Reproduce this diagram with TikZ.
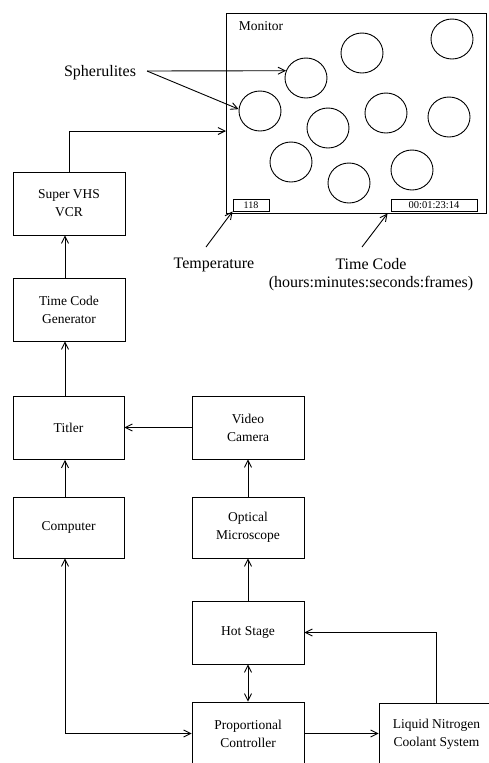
\documentclass[tikz,border=0pt]{standalone}
\usepackage{fontspec}
\setmainfont{Liberation Serif}
\usetikzlibrary{arrows.meta,shapes.geometric,calc}
\begin{document}
\begin{tikzpicture}[x=1pt,y=-1pt,
  line width=0.9pt,
  >={Straight Barb[length=7pt,width=7pt]},
  blk/.style={draw,minimum width=112pt,minimum height=63pt,inner sep=0pt,align=center,
    font=\fontsize{13.5}{18}\selectfont},
  lbl/.style={font=\fontsize{16}{18}\selectfont,inner sep=0pt},
  sph/.style={draw,ellipse,minimum width=42pt,minimum height=40pt,inner sep=0pt},
  small/.style={draw,inner sep=0pt,minimum height=12pt,font=\fontsize{10}{10}\selectfont}]
\useasboundingbox (0,0) rectangle (488,763);
% monitor
\node[draw,minimum width=260pt,minimum height=200pt,inner sep=0pt] (mon) at (356,113) {};
\node[font=\fontsize{13.5}{14}\selectfont,inner sep=0pt] (montxt) at (261,26) {Monitor};
\node[sph] (s1) at (306,78) {};
\node[sph] (s2) at (362,53) {};
\node[sph] (s3) at (452,39) {};
\node[sph] (s4) at (260,111) {};
\node[sph] (s5) at (328,128) {};
\node[sph] (s6) at (386,113) {};
\node[sph] (s7) at (449,117) {};
\node[sph] (s8) at (291,162) {};
\node[sph] (s9) at (349,183) {};
\node[sph] (s10) at (412,170) {};
\node[small,minimum width=36pt] (tbox) at (251,205) {118};
\node[small,minimum width=86pt,font=\fontsize{10.5}{10}\selectfont] (tcbox) at (434,205) {00:01:23:14};
% labels
\node[lbl] (sphtxt) at (100,73) {Spherulites};
\coordinate (sp) at (147,71);
\draw[->] (sp) -- (s1.160);
\draw[->] (sp) -- (s4.175);
\node[lbl] (temp) at (214,265) {Temperature};
\node[lbl] (tc) at (371,264) {Time Code};
\node[lbl] (tcsub) at (371,284) {(hours:minutes:seconds:frames)};
\coordinate (ta) at (206,247);
\coordinate (tca) at (362,247);
\draw[->] (ta) -- (tbox.south west);
\draw[->] (tca) -- ($(tcbox.south west)+(-3,2)$);
% blocks
\node[blk] (vcr) at (69,203.5) {Super VHS\\VCR};
\node[blk] (tcg) at (69,309.5) {Time Code\\Generator};
\node[blk,minimum width=111pt] (titler) at (68.5,428) {Titler};
\node[blk,minimum width=111pt,minimum height=61pt] (comp) at (68.5,527.5) {Computer};
\node[blk] (cam) at (248,427.5) {Video\\Camera};
\node[blk,minimum height=61pt] (opt) at (248,527.5) {Optical\\Microscope};
\node[blk] (hot) at (248,632.5) {Hot Stage};
\node[blk] (prop) at (248,733.5) {Proportional\\Controller};
\node[blk,minimum width=115pt] (ln) at (436.5,734.5) {Liquid Nitrogen\\Coolant System};
\coordinate (xl) at (65,0);
\coordinate (m1) at (226,131);
% connectors
\draw[->] (vcr.north) |- (m1);
\draw[->] (tcg.north -| xl) -- (vcr.south -| xl);
\draw[->] (titler.north -| xl) -- (tcg.south -| xl);
\draw[->] (comp.north -| xl) -- (titler.south -| xl);
\draw[->] (cam.west) -- (titler.east |- cam.west);
\draw[->] (opt.north) -- (cam.south);
\draw[->] (hot.north) -- (opt.south);
\draw[<->] (hot.south) -- (prop.north);
\draw[<->] (comp.south -| xl) |- (prop.west);
\draw[->] (prop.east) -- (ln.west |- prop.east);
\draw[->] (ln.north) |- (hot.east);
\end{tikzpicture}
\end{document}
